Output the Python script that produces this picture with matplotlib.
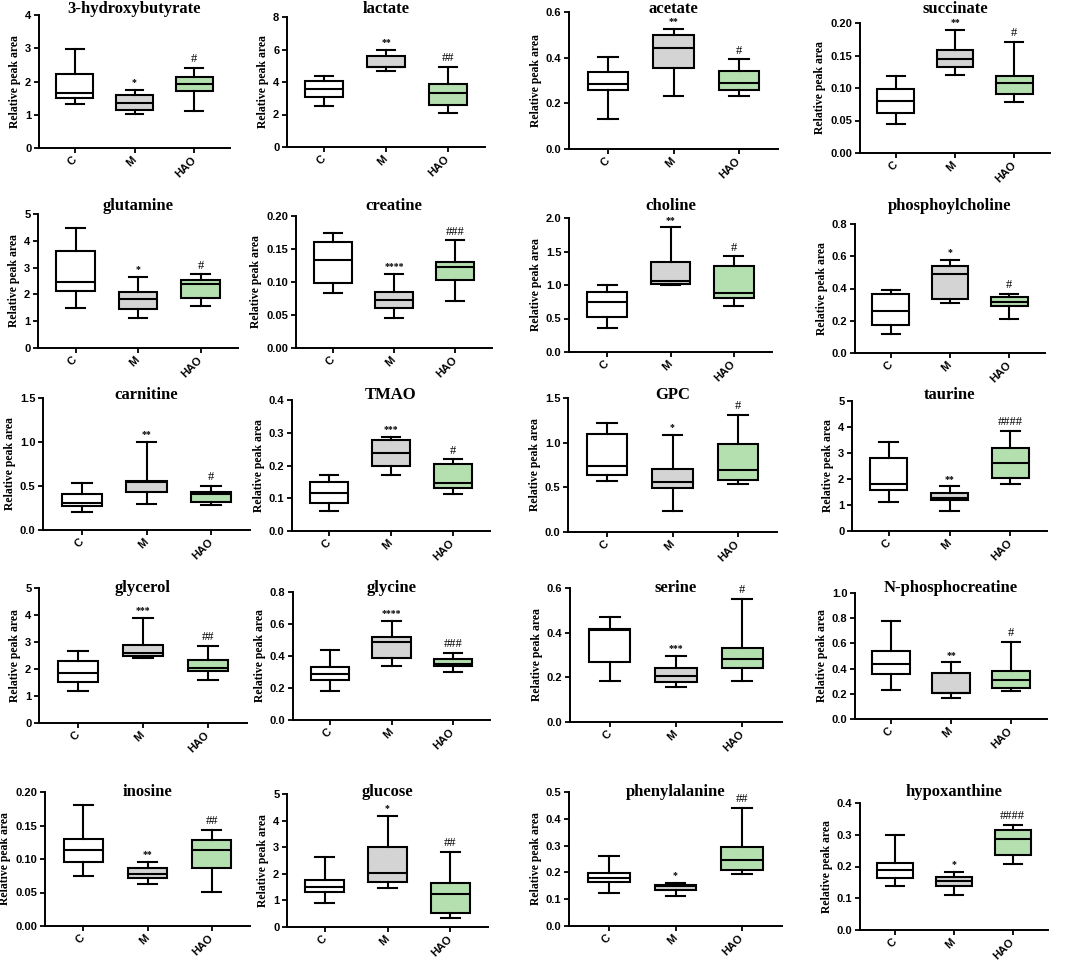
import matplotlib
matplotlib.use("Agg")
import matplotlib.pyplot as plt

# metabolites, axis range
names = ["3-hydroxybutyrate", "lactate", "acetate", "succinate",
         "glutamine", "creatine", "choline", "phosphoylcholine",
         "carnitine", "TMAO", "GPC", "taurine",
         "glycerol", "glycine", "serine", "N-phosphocreatine",
         "inosine", "glucose", "phenylalanine", "hypoxanthine"]
y_max = [4, 8, 0.6, 0.20, 5, 0.20, 2.0, 0.8, 1.5, 0.4, 1.5, 5,
         5, 0.8, 0.6, 1.0, 0.20, 5, 0.5, 0.4]
y_step = [1, 2, 0.2, 0.05, 1, 0.05, 0.5, 0.2, 0.5, 0.1, 0.5, 1,
          1, 0.2, 0.2, 0.2, 0.05, 1, 0.1, 0.1]
groups = ["C", "M", "HAO"]

# box stats per group: (min, q1, median, q3, max)
c_box = [
    (1.33, 1.50, 1.64, 2.22, 2.97), (2.55, 3.05, 3.55, 4.05, 4.40),
    (0.131, 0.260, 0.283, 0.336, 0.403), (0.044, 0.062, 0.080, 0.098, 0.119),
    (1.49, 2.14, 2.45, 3.61, 4.46), (0.084, 0.099, 0.133, 0.160, 0.174),
    (0.36, 0.52, 0.74, 0.90, 1.00), (0.118, 0.171, 0.258, 0.368, 0.393),
    (0.21, 0.27, 0.31, 0.41, 0.53), (0.062, 0.087, 0.115, 0.150, 0.171),
    (0.57, 0.64, 0.735, 1.10, 1.22), (1.12, 1.59, 1.79, 2.81, 3.44),
    (1.17, 1.52, 1.85, 2.30, 2.66), (0.18, 0.25, 0.29, 0.33, 0.44),
    (0.185, 0.27, 0.41, 0.415, 0.47), (0.23, 0.355, 0.435, 0.54, 0.78),
    (0.075, 0.096, 0.113, 0.130, 0.180), (0.92, 1.33, 1.50, 1.77, 2.65),
    (0.124, 0.165, 0.180, 0.197, 0.260), (0.138, 0.165, 0.190, 0.210, 0.300),
]
m_box = [
    (1.03, 1.13, 1.34, 1.58, 1.74), (4.70, 4.90, 4.95, 5.60, 6.00),
    (0.233, 0.354, 0.443, 0.498, 0.527), (0.120, 0.132, 0.145, 0.158, 0.190),
    (1.11, 1.46, 1.83, 2.09, 2.66), (0.045, 0.061, 0.073, 0.085, 0.112),
    (1.00, 1.01, 1.06, 1.34, 1.86), (0.310, 0.335, 0.492, 0.541, 0.578),
    (0.30, 0.43, 0.54, 0.56, 1.00), (0.171, 0.200, 0.239, 0.278, 0.288),
    (0.24, 0.49, 0.56, 0.70, 1.09), (0.76, 1.18, 1.28, 1.47, 1.72),
    (2.42, 2.50, 2.60, 2.90, 3.90), (0.34, 0.39, 0.49, 0.52, 0.62),
    (0.155, 0.18, 0.205, 0.24, 0.295), (0.165, 0.205, 0.21, 0.365, 0.45),
    (0.062, 0.072, 0.078, 0.086, 0.096), (1.45, 1.70, 2.02, 3.00, 4.17),
    (0.112, 0.135, 0.148, 0.153, 0.160), (0.110, 0.140, 0.155, 0.168, 0.183),
]
hao_box = [
    (1.10, 1.72, 1.92, 2.13, 2.42), (2.10, 2.60, 3.35, 3.85, 4.95),
    (0.232, 0.258, 0.291, 0.341, 0.392), (0.078, 0.091, 0.108, 0.119, 0.171),
    (1.58, 1.86, 2.38, 2.55, 2.75), (0.071, 0.103, 0.122, 0.130, 0.163),
    (0.68, 0.80, 0.88, 1.28, 1.43), (0.213, 0.289, 0.316, 0.347, 0.368),
    (0.285, 0.32, 0.41, 0.43, 0.50), (0.112, 0.130, 0.148, 0.205, 0.219),
    (0.54, 0.58, 0.69, 0.98, 1.31), (1.82, 2.05, 2.63, 3.18, 3.85),
    (1.58, 1.92, 2.05, 2.35, 2.87), (0.30, 0.34, 0.35, 0.38, 0.42),
    (0.185, 0.24, 0.28, 0.33, 0.55), (0.22, 0.245, 0.31, 0.38, 0.615),
    (0.051, 0.086, 0.114, 0.129, 0.144), (0.35, 0.52, 1.25, 1.65, 2.82),
    (0.195, 0.210, 0.248, 0.295, 0.440), (0.207, 0.235, 0.287, 0.315, 0.332),
]
m_sig = ["*", "**", "**", "**", "*", "****", "**", "*", "**", "***", "*", "**",
         "***", "****", "***", "**", "**", "*", "*", "*"]
hao_sig = ["#", "##", "#", "#", "#", "###", "#", "#", "#", "#", "#", "####",
           "##", "###", "#", "#", "##", "##", "##", "####"]

box_colors = ["white", "#d4d4d4", "#b4e0b0"]

# panel boxes in pixels (left, top, right, bottom) and title rows
W, H = 1065, 960
rects = [
    (39, 15, 230, 148), (287, 17, 485, 147), (569, 12, 778, 149), (860, 23, 1050, 153),
    (38, 214, 238, 348), (296, 216, 492, 348), (569, 218, 772, 352), (855, 224, 1045, 353),
    (43, 398, 250, 530), (292, 400, 490, 531), (568, 398, 777, 532), (852, 401, 1047, 531),
    (39, 588, 247, 723), (293, 592, 490, 720), (570, 588, 782, 722), (855, 593, 1047, 719),
    (45, 792, 250, 926), (287, 794, 488, 927), (569, 792, 782, 926), (860, 803, 1048, 930),
]
title_rows = [9, 206, 395, 588, 792]

serif = ["Liberation Serif", "DejaVu Serif"]
sans = ["Liberation Sans", "DejaVu Sans"]

fig = plt.figure(figsize=(W / 100, H / 100), dpi=100)

for i, name in enumerate(names):
    l, t, r, b = rects[i]
    ax = fig.add_axes([l / W, 1 - b / H, (r - l) / W, (b - t) / H])
    stats = []
    for g, box in zip(groups, [c_box[i], m_box[i], hao_box[i]]):
        lo, q1, med, q3, hi = box
        stats.append(dict(label=g, whislo=lo, q1=q1, med=med, q3=q3, whishi=hi, fliers=[]))
    lw = 1.5
    bp = ax.bxp(stats, positions=[1, 2, 3], widths=0.62, capwidths=0.3,
                patch_artist=True, showfliers=False,
                boxprops=dict(edgecolor="black", linewidth=lw),
                medianprops=dict(color="black", linewidth=lw),
                whiskerprops=dict(color="black", linewidth=lw),
                capprops=dict(color="black", linewidth=lw))
    for patch, col in zip(bp["boxes"], box_colors):
        patch.set_facecolor(col)

    ym = y_max[i]
    ax.set_ylim(0, ym)
    ax.set_xlim(0.4, 3.6)
    st = y_step[i]
    n = int(round(ym / st))
    ticks = [k * st for k in range(n + 1)]
    ax.set_yticks(ticks)
    if st >= 1:
        fmt = "{:.0f}"
    elif st == 0.05:
        fmt = "{:.2f}"
    else:
        fmt = "{:.1f}"
    ax.set_yticklabels([fmt.format(v) for v in ticks], family=sans,
                       fontsize=8, fontweight="bold")
    ax.set_xticks([1, 2, 3])
    ax.set_xticklabels(groups, rotation=45, family=sans, fontsize=8,
                       fontweight="bold", ha="right", va="center",
                       rotation_mode="anchor")
    ax.tick_params(direction="out", length=3.5, width=1.3, pad=2)
    ax.tick_params(axis="x", pad=4)
    for sp in ["top", "right"]:
        ax.spines[sp].set_visible(False)
    for sp in ["left", "bottom"]:
        ax.spines[sp].set_linewidth(1.4)
    ax.set_ylabel("Relative peak area", family=serif, fontsize=8.5,
                  fontweight="bold", labelpad=3)

    # significance marks
    off = 0.02 * ym
    ax.text(2, m_box[i][4] + off, m_sig[i], ha="center", va="bottom",
            family=serif, fontsize=7, fontweight="bold")
    ax.text(3, hao_box[i][4] + off, hao_sig[i], ha="center", va="bottom",
            family=serif, fontsize=9)

    fig.text((l + r) / 2 / W, 1 - title_rows[i // 4] / H, name, ha="center",
             va="center", family=serif, fontsize=12, fontweight="bold")

fig.savefig("out.png", dpi=100)
